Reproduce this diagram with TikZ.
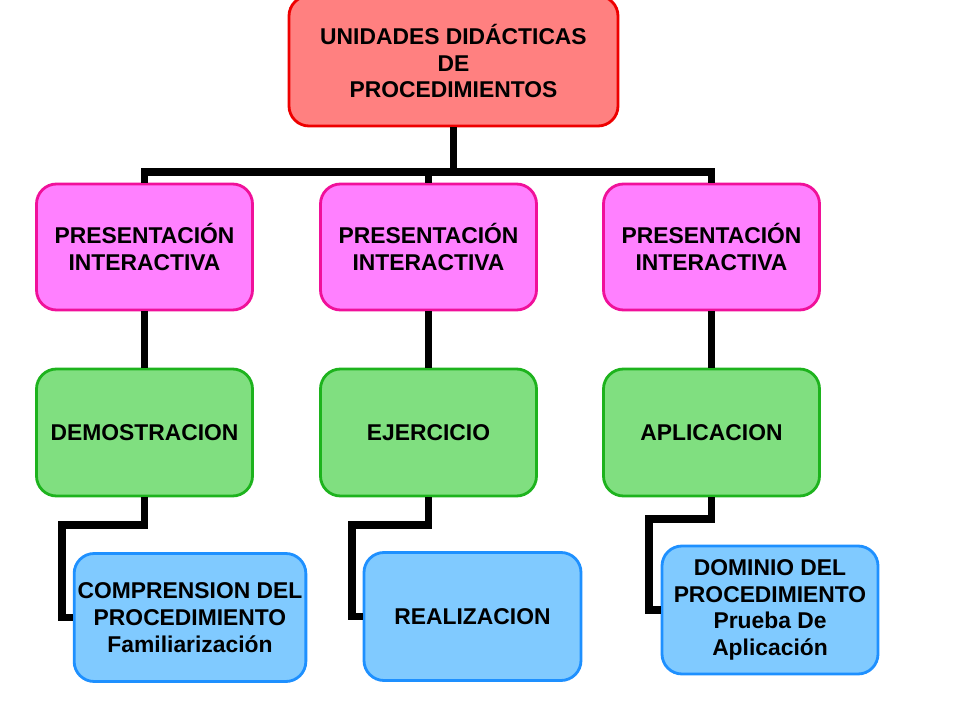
\documentclass[tikz,border=0pt]{standalone}
\usepackage{fontspec}
\setmainfont{Liberation Sans}
\usepackage{xcolor}
\usepackage{tikz}
\usetikzlibrary{positioning,calc}

\definecolor{topfill}{HTML}{FF8080}
\definecolor{topline}{HTML}{EE0000}
\definecolor{presfill}{HTML}{FF80FF}
\definecolor{presline}{HTML}{F0109A}
\definecolor{stagefill}{HTML}{80DF80}
\definecolor{stageline}{HTML}{1DB31D}
\definecolor{resfill}{HTML}{80CAFF}
\definecolor{resline}{HTML}{1E90FF}

\tikzset{
  box/.style={rounded corners=0.4cm, line width=1.6pt, align=center, inner sep=2pt,
    font=\fontsize{13}{15.2}\selectfont\bfseries},
  topbox/.style={box, draw=topline, fill=topfill, minimum width=6.58cm, minimum height=2.60cm},
  presbox/.style={box, draw=presline, fill=presfill, minimum width=4.32cm, minimum height=2.52cm},
  stagebox/.style={box, draw=stageline, fill=stagefill, minimum width=4.32cm, minimum height=2.54cm},
  resbox/.style={box, draw=resline, fill=resfill, minimum height=2.56cm},
  conn/.style={line width=4.5pt, line join=miter}
}

\begin{document}
\begin{tikzpicture}
\useasboundingbox[fill=white] (0,0) rectangle (19.2,14.4);

% Top
\node[topbox] (top) at (9.07,13.18) {UNIDADES DIDÁCTICAS\\DE\\PROCEDIMIENTOS};

% Presentations
\node[presbox] (p1) at (2.89,9.46) {PRESENTACIÓN\\INTERACTIVA};
\node[presbox] (p2) at (8.57,9.46) {PRESENTACIÓN\\INTERACTIVA};
\node[presbox] (p3) at (14.23,9.46) {PRESENTACIÓN\\INTERACTIVA};

% Stages
\node[stagebox] (s1) at (2.89,5.75) {DEMOSTRACION};
\node[stagebox] (s2) at (8.57,5.75) {EJERCICIO};
\node[stagebox] (s3) at (14.23,5.75) {APLICACION};

% Results
\node[resbox, minimum width=4.60cm] (r1) at (3.80,2.05) {COMPRENSION DEL\\PROCEDIMIENTO\\Familiarización};
\node[resbox, minimum width=4.34cm] (r2) at (9.45,2.07) {REALIZACION};
\node[resbox, minimum width=4.32cm] (r3) at (15.40,2.20) {DOMINIO DEL\\PROCEDIMIENTO\\Prueba De\\Aplicación};

% Connectors
\coordinate (bus) at (9.07,10.96);
\coordinate (e1) at (1.24,3.90);
\coordinate (e2) at (7.04,3.90);
\coordinate (e3) at (12.98,4.02);

\draw[conn] (top.south) -- (bus);
\draw[conn] (p1.north) |- (bus) -| (p3.north);
\draw[conn] (p2.north) -- (p2.north |- bus);

\draw[conn] (p1.south) -- (s1.north);
\draw[conn] (p2.south) -- (s2.north);
\draw[conn] (p3.south) -- (s3.north);

\draw[conn] (s1.south) |- (e1) |- (r1.west);
\draw[conn] (s2.south) |- (e2) |- (r2.west);
\draw[conn] (s3.south) |- (e3) |- (r3.west);
\end{tikzpicture}
\end{document}
